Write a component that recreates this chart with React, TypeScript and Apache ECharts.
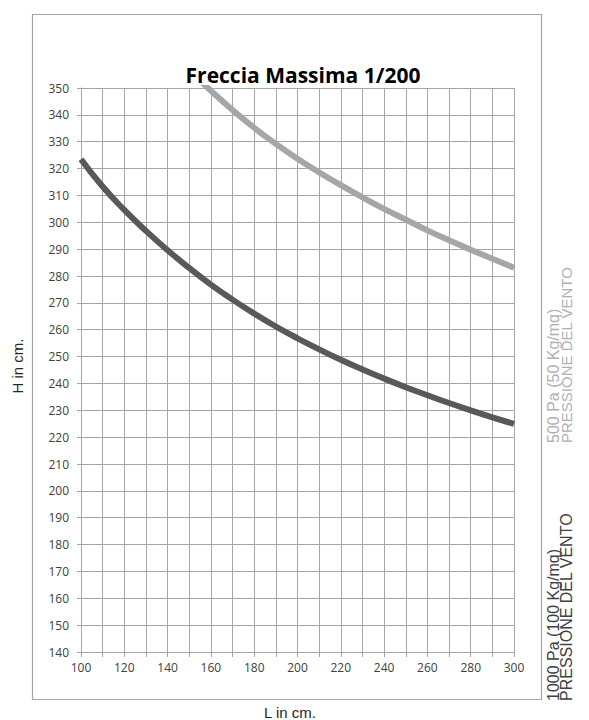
import React, { useEffect, useRef } from "react";
import * as echarts from "echarts";

const L_VALUES = [100, 110, 120, 130, 140, 150, 160, 170, 180, 190, 200, 210, 220, 230, 240, 250, 260, 270, 280, 290, 300];
const H_1000PA = [323.5, 313.3, 304.6, 296.8, 289.6, 283, 276.8, 271.2, 266, 261.2, 256.8, 252.7, 248.8, 245.2, 241.8, 238.6, 235.6, 232.7, 230, 227.4, 224.9];
const H_500PA = [null, null, null, null, null, 356.5, 349, 341.8, 335.2, 329.2, 323.7, 318.6, 313.8, 309.3, 305, 301, 297, 293.3, 289.8, 286.4, 283.1];

const TITLE = "Freccia Massima 1/200";
const Y_NAME = "H in cm.";
const X_NAME = "L in cm.";
const LABEL_1000 = ["1000 Pa (100 Kg/mq)", "PRESSIONE DEL VENTO"];
const LABEL_500 = ["500 Pa (50 Kg/mq)", "PRESSIONE DEL VENTO"];

export default function App() {
  const ref = useRef<HTMLDivElement>(null);
  useEffect(() => {
    if (!ref.current) return;
    const chart = echarts.init(ref.current, undefined, { renderer: "svg" });
    const grid = "#a6a6a6";
    const sideText = (text: string, x: number, y: number, fill: string, size: number) => ({
      type: "text",
      x,
      y,
      rotation: Math.PI / 2,
      style: {
        text,
        fontFamily: "Liberation Sans",
        fontSize: size,
        fill,
        textAlign: "left",
        textVerticalAlign: "middle",
      },
    });
    chart.setOption({
      animation: false,
      backgroundColor: "#ffffff",
      grid: { left: 81, right: 75, top: 88, bottom: 68, containLabel: false },
      xAxis: {
        type: "value",
        min: 100,
        max: 300,
        interval: 10,
        axisLine: { show: true, lineStyle: { color: grid, width: 1 } },
        axisTick: { show: true, length: 5, lineStyle: { color: grid } },
        splitLine: { show: true, lineStyle: { color: grid, width: 1 } },
        axisLabel: {
          margin: 9,
          fontSize: 12,
          fontFamily: "Open Sans",
          color: "#404040",
          formatter: (v: number) => (v % 20 === 0 ? String(v) : ""),
        },
      },
      yAxis: {
        type: "value",
        min: 140,
        max: 350,
        interval: 10,
        axisLine: { show: true, lineStyle: { color: grid, width: 1 } },
        axisTick: { show: true, length: 4, lineStyle: { color: grid } },
        splitLine: { show: true, lineStyle: { color: grid, width: 1 } },
        axisLabel: { margin: 12, fontSize: 12, fontFamily: "Open Sans", color: "#404040" },
      },
      series: [
        {
          type: "line",
          name: "1000 Pa",
          data: L_VALUES.map((x, i) => [x, H_1000PA[i]]),
          smooth: true,
          showSymbol: false,
          symbol: "none",
          lineStyle: { color: "#595959", width: 6 },
          clip: true,
        },
        {
          type: "line",
          name: "500 Pa",
          data: L_VALUES.map((x, i) => [x, H_500PA[i]]).filter((p) => p[1] !== null),
          smooth: true,
          showSymbol: false,
          symbol: "none",
          lineStyle: { color: "#a6a6a6", width: 6 },
          clip: true,
        },
      ],
      graphic: [
        {
          type: "rect",
          shape: { x: 32.5, y: 14.5, width: 509, height: 685 },
          style: { fill: "none", stroke: "#a6a6a6", lineWidth: 1.2 },
          silent: true,
        },
        {
          type: "text",
          x: 303,
          y: 75,
          style: {
            text: TITLE,
            fontFamily: "Open Sans",
            fontWeight: "bold",
            fontSize: 21,
            fill: "#000000",
            textAlign: "center",
            textVerticalAlign: "middle",
          },
        },
        {
          type: "text",
          x: 17,
          y: 366,
          rotation: Math.PI / 2,
          style: {
            text: Y_NAME,
            fontFamily: "Liberation Sans",
            fontSize: 15,
            fill: "#262626",
            textAlign: "center",
            textVerticalAlign: "middle",
          },
        },
        {
          type: "text",
          x: 290,
          y: 712,
          style: {
            text: X_NAME,
            fontFamily: "Liberation Sans",
            fontSize: 15,
            fill: "#262626",
            textAlign: "center",
            textVerticalAlign: "middle",
          },
        },
        sideText(LABEL_1000[0], 553, 701, "#404040", 16),
        sideText(LABEL_1000[1], 566.5, 701, "#404040", 16),
        sideText(LABEL_500[0], 553, 443, "#b0b0b0", 16),
        sideText(LABEL_500[1], 566, 443, "#b0b0b0", 15),
      ],
    });
    return () => chart.dispose();
  }, []);
  return (
    <div
      ref={ref}
      style={{ position: "absolute", left: 0, top: 0, width: 589, height: 720 }}
    />
  );
}
